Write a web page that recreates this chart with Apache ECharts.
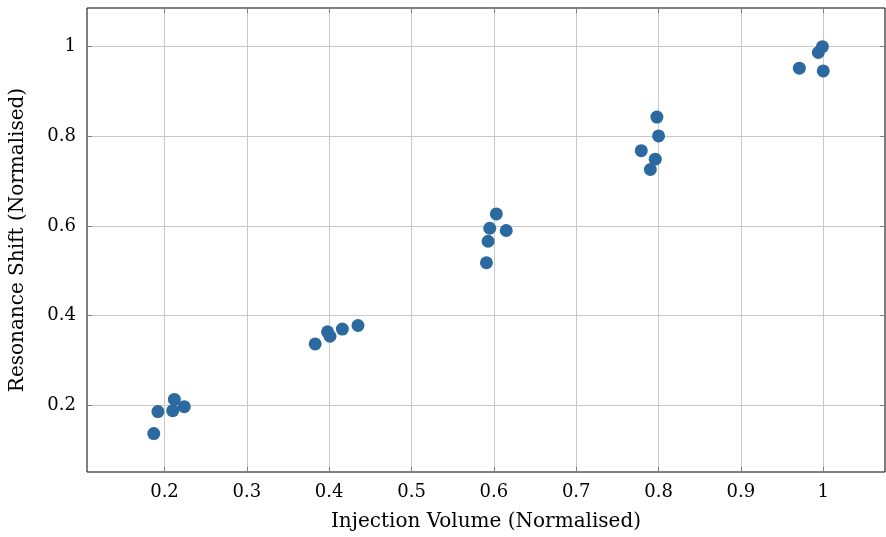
<!DOCTYPE html>
<html>
<head>
<meta charset="utf-8">
<script src="https://cdn.jsdelivr.net/npm/echarts@6/dist/echarts.min.js"></script>
<style>
  html, body { margin: 0; padding: 0; background: #fff; }
  #chart { width: 886px; height: 537px; }
</style>
</head>
<body>
<div id="chart"></div>
<script>
// injection volume vs resonance shift, both normalised
let volumes = [0.187, 0.192, 0.210, 0.212, 0.224,
               0.383, 0.398, 0.401, 0.416, 0.435,
               0.591, 0.593, 0.595, 0.603, 0.615,
               0.779, 0.790, 0.796, 0.798, 0.800,
               0.971, 0.994, 0.999, 1.000];
let shifts = [0.137, 0.186, 0.188, 0.213, 0.197,
              0.337, 0.364, 0.354, 0.370, 0.378,
              0.518, 0.566, 0.595, 0.627, 0.590,
              0.768, 0.726, 0.749, 0.843, 0.801,
              0.952, 0.987, 1.000, 0.946];
let xTicks = [0.2, 0.3, 0.4, 0.5, 0.6, 0.7, 0.8, 0.9, 1];
let yTicks = [0.2, 0.4, 0.6, 0.8, 1];

let points = [];
for (let i = 0; i < volumes.length; i++) {
    points.push([volumes[i], shifts[i]]);
}

let font = 'DejaVu Serif';
let fmt = function (v) { return String(+v.toFixed(1)); };

function makeAxis(ticks, min, max, pos, main) {
    return {
        type: 'value',
        position: pos,
        min: min,
        max: max,
        axisLine: { show: false },
        axisTick: {
            show: true, inside: true, length: 5, customValues: ticks,
            lineStyle: { color: '#7f7f7f', width: 1 }
        },
        axisLabel: {
            show: main, customValues: ticks, formatter: fmt,
            fontFamily: font, fontSize: 18, color: '#000', margin: 11
        },
        splitLine: {
            show: main, customValues: ticks,
            lineStyle: { color: '#c8c8c8', width: 1 }
        }
    };
}

let chart = echarts.init(document.getElementById('chart'));

let xMain = makeAxis(xTicks, 0.1059, 1.075, 'bottom', true);
xMain.name = 'Injection Volume (Normalised)';
xMain.nameLocation = 'middle';
xMain.nameGap = 40;
xMain.nameTextStyle = { fontFamily: font, fontSize: 20, color: '#000' };

let yMain = makeAxis(yTicks, 0.0512, 1.0863, 'left', true);
yMain.name = 'Resonance Shift (Normalised)';
yMain.nameLocation = 'middle';
yMain.nameGap = 59;
yMain.nameTextStyle = { fontFamily: font, fontSize: 20, color: '#000' };

let option = {
    animation: false,
    grid: {
        left: 87, right: 1, top: 8, bottom: 65,
        show: true, borderColor: '#000', borderWidth: 1, backgroundColor: 'transparent'
    },
    xAxis: [xMain, makeAxis(xTicks, 0.1059, 1.075, 'top', false)],
    yAxis: [yMain, makeAxis(yTicks, 0.0512, 1.0863, 'right', false)],
    series: [{
        type: 'scatter',
        data: points,
        symbolSize: 13,
        itemStyle: { color: '#2b69a0', opacity: 1 },
        z: 5
    }]
};

chart.setOption(option);
</script>
</body>
</html>
